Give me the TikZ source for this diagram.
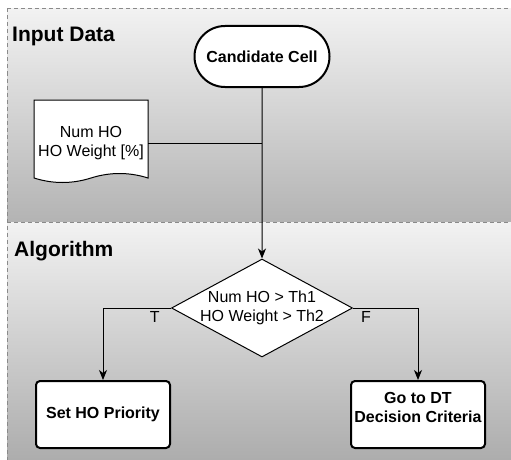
\documentclass[tikz,border=0pt]{standalone}
\usepackage{fontspec}
\setmainfont{Liberation Sans}
\usetikzlibrary{shapes.geometric,shapes.misc,arrows.meta}
\definecolor{laneTop}{HTML}{F2F2F2}
\definecolor{laneBot}{HTML}{B3B3B3}
\definecolor{laneBotB}{HTML}{ABABAB}
\definecolor{dashgray}{HTML}{8A8A8A}
\begin{document}
\begin{tikzpicture}[x=1pt,y=-1pt,
  lanedash/.style={draw=dashgray, line width=1pt, dash pattern=on 4pt off 3pt},
  lanetitle/.style={anchor=base west, inner sep=0pt, font=\fontsize{21}{25}\selectfont\bfseries},
  conn/.style={draw=black, line width=1pt},
  arr/.style={conn, -{Stealth[length=10pt,width=8pt,inset=3pt]}},
  terminator/.style={rounded rectangle, draw=black, line width=2pt, fill=white,
    minimum width=135pt, minimum height=61pt, inner sep=0pt,
    font=\fontsize{16}{19.5}\selectfont\bfseries},
  doctext/.style={minimum width=114pt, minimum height=82pt, inner sep=0pt, align=center,
    font=\fontsize{16}{18.4}\selectfont},
  decision/.style={diamond, draw=black, line width=1pt, fill=white, aspect=1.85,
    minimum width=181pt, minimum height=98pt, inner sep=0pt},
  dectext/.style={align=center, inner sep=0pt, font=\fontsize{16}{18.4}\selectfont},
  process/.style={rectangle, rounded corners=4pt, draw=black, line width=2pt, fill=white,
    minimum width=134pt, minimum height=67pt, inner sep=0pt, align=center,
    font=\fontsize{16}{19.5}\selectfont\bfseries},
  boldtext/.style={align=center, inner sep=0pt, font=\fontsize{16}{19.5}\selectfont\bfseries},
  edgelabel/.style={inner sep=3pt, font=\fontsize{16}{18}\selectfont}
]
\useasboundingbox (0,0) rectangle (511,460);
% lanes
\shade[top color=laneTop, bottom color=laneBot] (7,8.5) rectangle (516,222.5);
\shade[top color=laneTop, bottom color=laneBotB] (7,222.5) rectangle (516,466);
\draw[lanedash] (7,8.5) -- (516,8.5);
\draw[lanedash] (7,8.5) -- (7,466);
\draw[lanedash] (7,222.5) -- (516,222.5);
\node[lanetitle] (t1) at (12,42) {Input Data};
\node[lanetitle] (t2) at (14,256) {Algorithm};
% document shape
\filldraw[fill=white, draw=black, line width=1pt]
  (34,100) -- (148,100) -- (148,178)
  .. controls (129,172) and (110,172) .. (91,178)
  .. controls (72,184) and (53,184) .. (34,178) -- cycle;
% nodes
\node[terminator] (cand) at (262,56.5) {Candidate Cell};
\node[doctext] (doc) at (91,143) {Num HO\\HO Weight [\%]};
\node[decision, label={[dectext]center:Num HO > Th1\\HO Weight > Th2}] (dec) at (262,308) {};
\node[process] (set) at (103,414.5) {Set HO Priority};
\node[process, label={[boldtext, yshift=7pt]center:Go to DT\\Decision Criteria}] (go) at (418,414.5) {};
% connectors
\draw[arr] (cand) -- (dec);
\draw[conn] (doc.east) -- (doc.east -| cand.south);
\draw[arr] (dec.west) -| node[pos=0.12, below, edgelabel] {T} (set.north);
\draw[arr] (dec.east) -| node[pos=0.1, below, edgelabel] {F} (go.north);
\end{tikzpicture}
\end{document}
